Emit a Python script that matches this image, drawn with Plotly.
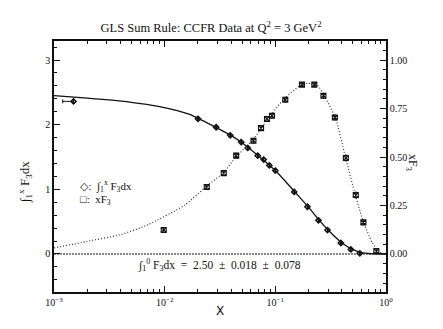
import plotly.graph_objects as go

# ---- data ----
int_curve_x = [0.001, 0.002, 0.0048, 0.009, 0.0168, 0.0296, 0.04, 0.05, 0.07, 0.1,
               0.15, 0.2, 0.25, 0.3, 0.4, 0.5, 0.6, 0.75, 1.0]
int_curve_y = [2.45, 2.41, 2.35, 2.28, 2.16, 1.95, 1.83, 1.72, 1.52, 1.29,
               0.96, 0.72, 0.52, 0.37, 0.17, 0.07, 0.02, 0.003, 0.0]

int_x = [0.0015, 0.020, 0.0292, 0.0391, 0.0491, 0.0563, 0.0693, 0.0785, 0.0883, 0.1,
         0.148, 0.195, 0.245, 0.296, 0.391, 0.481, 0.58]
int_y = [2.36, 2.09, 1.96, 1.835, 1.73, 1.64, 1.52, 1.46, 1.37, 1.29,
         0.96, 0.73, 0.52, 0.37, 0.17, 0.07, 0.01]
int_err = [0.03, 0.03, 0.03, 0.03, 0.03, 0.03, 0.03, 0.03, 0.03, 0.03,
           0.03, 0.03, 0.02, 0.02, 0.02, 0.02, 0.01]
int_xerr_minus = [0.0003, 0, 0, 0, 0, 0, 0, 0, 0, 0, 0, 0, 0, 0, 0, 0, 0]

xf3_curve_x = [0.001, 0.002, 0.004, 0.007, 0.015, 0.024, 0.034, 0.044, 0.063, 0.084,
               0.12, 0.17, 0.2, 0.24, 0.28, 0.35, 0.43, 0.53, 0.63, 0.75, 0.85, 0.95]
xf3_curve_y = [0.031, 0.065, 0.10, 0.15, 0.25, 0.35, 0.42, 0.50, 0.59, 0.69,
               0.80, 0.87, 0.88, 0.87, 0.81, 0.70, 0.50, 0.30, 0.16, 0.06, 0.015, 0.0]

xf3_x = [0.0098, 0.0240, 0.0342, 0.0443, 0.0634, 0.0743, 0.0841, 0.0933, 0.123,
         0.174, 0.225, 0.272, 0.345, 0.434, 0.533, 0.625, 0.818]
xf3_y = [0.124, 0.345, 0.417, 0.507, 0.584, 0.649, 0.696, 0.713, 0.795,
         0.873, 0.873, 0.816, 0.704, 0.495, 0.304, 0.163, 0.015]
xf3_err = [0.012, 0.012, 0.012, 0.012, 0.012, 0.012, 0.012, 0.012, 0.012,
           0.01, 0.01, 0.012, 0.012, 0.015, 0.015, 0.012, 0.01]

x_tickvals = [0.001, 0.01, 0.1, 1]
x_ticktext = ["10<sup>\u22123</sup>", "10<sup>\u22122</sup>", "10<sup>\u22121</sup>", "10<sup>0</sup>"]
left_ticks = [0, 1, 2, 3]
right_ticks = [0.0, 0.25, 0.5, 0.75, 1.0]
right_ticktext = ["0.00", "0.25", "0.50", "0.75", "1.00"]

SERIF = "Liberation Serif, DejaVu Serif, serif"
INK = "#111111"

# the page body keeps its default 8px margin, so the figure is sized 427x313
W, H = 427, 313

fig = go.Figure()

fig.add_trace(go.Scatter(x=int_curve_x, y=int_curve_y, mode="lines",
                         line=dict(color=INK, width=1.3, shape="spline", smoothing=0.6),
                         hoverinfo="skip", showlegend=False))
fig.add_trace(go.Scatter(x=xf3_curve_x, y=xf3_curve_y, mode="lines", yaxis="y2",
                         line=dict(color="#333333", width=1.2, dash="1px,2px", shape="spline", smoothing=0.6),
                         hoverinfo="skip", showlegend=False))
fig.add_trace(go.Scatter(x=int_x, y=int_y, mode="markers",
                         marker=dict(symbol="diamond-open", size=4, color=INK,
                                     line=dict(width=1.5, color=INK)),
                         error_y=dict(type="data", array=int_err, color=INK, thickness=1, width=1),
                         error_x=dict(type="data", symmetric=False, array=[0] * len(int_x),
                                      arrayminus=int_xerr_minus, color=INK, thickness=1, width=2),
                         showlegend=False))
fig.add_trace(go.Scatter(x=xf3_x, y=xf3_y, mode="markers", yaxis="y2",
                         marker=dict(symbol="square-x-open", size=5, color=INK,
                                     line=dict(width=1.1, color=INK)),
                         error_y=dict(type="data", array=xf3_err, color=INK, thickness=1, width=1),
                         showlegend=False))

fig.update_layout(
    width=W, height=H,
    margin=dict(l=46, r=49, t=33, b=29, pad=0, autoexpand=False),
    paper_bgcolor="white", plot_bgcolor="white",
    font=dict(family=SERIF, size=10, color=INK),
    title=dict(text="GLS Sum Rule: CCFR Data at Q<sup>2</sup> = 3 GeV<sup>2</sup>",
               x=203 / W, xanchor="center", y=1 - 20 / H, yanchor="middle",
               font=dict(family=SERIF, size=12.5, color=INK)),
    xaxis=dict(type="log", range=[-3, 0], tickvals=x_tickvals, ticktext=x_ticktext,
               ticks="inside", ticklen=6, tickwidth=1, tickcolor=INK, automargin=False,
               minor=dict(ticks="inside", ticklen=3, tickcolor=INK, dtick="D1"),
               showgrid=False, zeroline=False, showline=True, linecolor=INK, linewidth=1.5,
               mirror="ticks", tickfont=dict(family=SERIF, size=10, color=INK)),
    yaxis=dict(range=[-0.588, 3.294], tickvals=left_ticks, automargin=False,
               ticks="inside", ticklen=6, tickcolor=INK,
               minor=dict(ticks="inside", ticklen=3, tickcolor=INK, dtick=0.2),
               showgrid=False, zeroline=False, showline=True, linecolor=INK, linewidth=1.5,
               tickfont=dict(family=SERIF, size=10, color=INK)),
    yaxis2=dict(range=[-0.196, 1.098], overlaying="y", side="right", automargin=False,
                tickvals=right_ticks, ticktext=right_ticktext,
                ticks="inside", ticklen=6, tickcolor=INK,
                minor=dict(ticks="inside", ticklen=3, tickcolor=INK, dtick=0.05),
                showgrid=False, zeroline=False, showline=True, linecolor=INK, linewidth=1.5,
                tickfont=dict(family=SERIF, size=10, color=INK)),
    shapes=[dict(type="line", xref="paper", yref="y", x0=0, x1=1, y0=0, y1=0,
                 line=dict(color=INK, width=1.2, dash="2px,1px"))],
    annotations=[
        dict(text="X", xref="paper", yref="paper", x=0.5, y=-19 / 251,
             showarrow=False, font=dict(family="DejaVu Sans", size=12, color=INK),
             yanchor="middle"),
        dict(text="\u222b<sub>1</sub><sup>x</sup> F<sub>3</sub>dx", xref="paper", yref="paper",
             x=-40 / 332, y=(292 - 182) / 251, textangle=-90, showarrow=False,
             font=dict(family=SERIF, size=13, color=INK)),
        dict(text="xF<sub>3</sub>", xref="paper", yref="paper",
             x=1 + 36 / 332, y=(292 - 162) / 251, textangle=90, showarrow=False,
             font=dict(family=SERIF, size=12, color=INK)),
        dict(text="\u25c7:  \u222b<sub>1</sub><sup>x</sup> F<sub>3</sub>dx", xref="paper", yref="paper",
             x=24 / 332, y=(292 - 186) / 251, xanchor="left", showarrow=False,
             font=dict(family=SERIF, size=11, color=INK)),
        dict(text="\u25a1:  xF<sub>3</sub>", xref="paper", yref="paper",
             x=24 / 332, y=(292 - 209) / 251, xanchor="left", showarrow=False,
             font=dict(family=SERIF, size=11, color=INK)),
        dict(text="\u222b<sub>1</sub><sup>0</sup> F<sub>3</sub>dx  =  2.50  \u00b1  0.018  \u00b1  0.078",
             xref="paper", yref="paper", x=(219 - 54) / 332, y=(292 - 275) / 251,
             showarrow=False, font=dict(family=SERIF, size=11.5, color=INK)),
    ],
)

fig.write_html("out.html")
